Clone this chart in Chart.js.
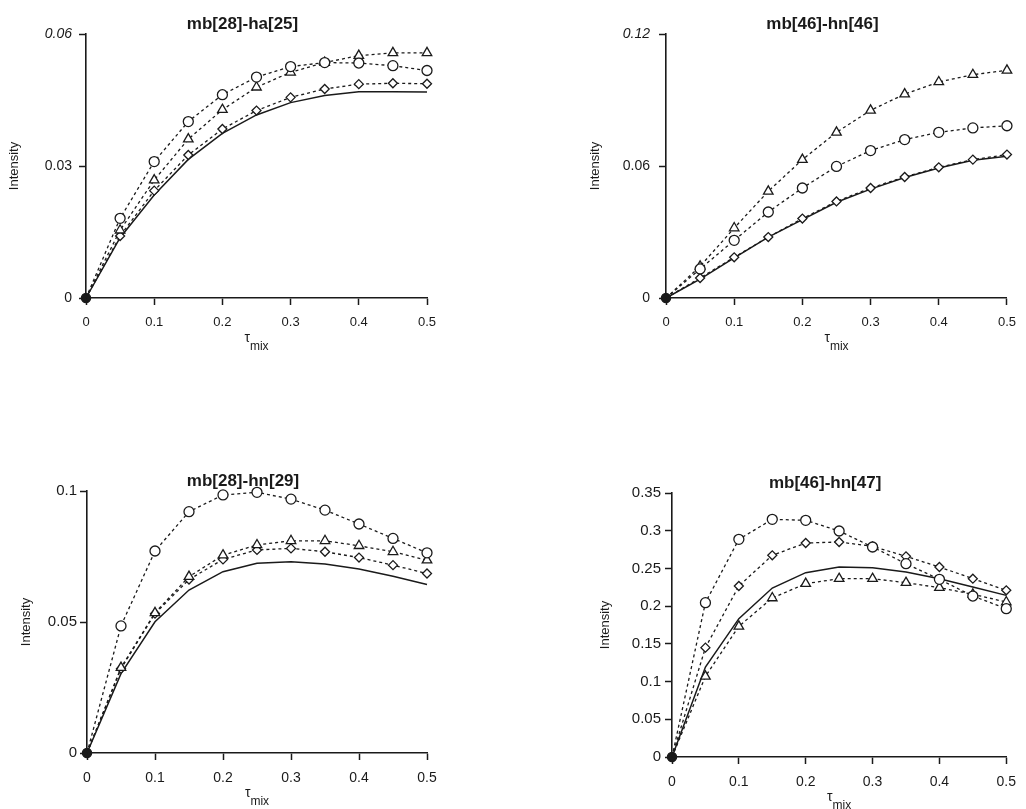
<!DOCTYPE html>
<html>
<head>
<meta charset="utf-8">
<script src="https://cdn.jsdelivr.net/npm/chart.js@4/dist/chart.umd.min.js"></script>
<style>
  html, body { margin: 0; padding: 0; background: #fff; overflow: hidden; }
  canvas { position: absolute; }
</style>
</head>
<body>
<canvas id="p1" width="513" height="360" style="left:0;top:0"></canvas>
<canvas id="p2" width="513" height="360" style="left:513px;top:0"></canvas>
<canvas id="p3" width="513" height="389" style="left:0;top:420px"></canvas>
<canvas id="p4" width="513" height="389" style="left:513px;top:420px"></canvas>
<script>
const tauMix = [0, 0.05, 0.1, 0.15, 0.2, 0.25, 0.3, 0.35, 0.4, 0.45, 0.5];
const xTicks = [0, 0.1, 0.2, 0.3, 0.4, 0.5];

// mb[28]-ha[25]
const p1Circle   = [0, 0.0181, 0.0310, 0.0401, 0.0462, 0.0502, 0.0526, 0.0535, 0.0534, 0.0528, 0.0517];
const p1Triangle = [0, 0.0154, 0.0268, 0.0361, 0.0428, 0.0479, 0.0513, 0.0535, 0.0551, 0.0557, 0.0557];
const p1Diamond  = [0, 0.0141, 0.0244, 0.0325, 0.0384, 0.0426, 0.0456, 0.0475, 0.0486, 0.0488, 0.0487];
const p1Solid    = [0, 0.0137, 0.0234, 0.0315, 0.0374, 0.0416, 0.0444, 0.0460, 0.0469, 0.0469, 0.0468];
const p1YTicks   = [0, 0.03, 0.06];

// mb[46]-hn[46]
const p2Circle   = [0, 0.0132, 0.0262, 0.0391, 0.0500, 0.0598, 0.0670, 0.0720, 0.0753, 0.0773, 0.0783];
const p2Triangle = [0, 0.0144, 0.0318, 0.0485, 0.0629, 0.0753, 0.0853, 0.0927, 0.0982, 0.1015, 0.1035];
const p2Diamond  = [0, 0.0091, 0.0185, 0.0277, 0.0361, 0.0439, 0.0500, 0.0550, 0.0594, 0.0629, 0.0652];
const p2Solid    = [0, 0.0086, 0.0182, 0.0277, 0.0356, 0.0435, 0.0495, 0.0548, 0.0591, 0.0626, 0.0644];
const p2YTicks   = [0, 0.06, 0.12];

// mb[28]-hn[29]
const p3Circle   = [0, 0.0485, 0.0771, 0.0921, 0.0985, 0.0995, 0.0969, 0.0927, 0.0874, 0.0819, 0.0764];
const p3Triangle = [0, 0.0326, 0.0535, 0.0673, 0.0755, 0.0794, 0.0810, 0.0810, 0.0791, 0.0768, 0.0736];
const p3Diamond  = [0, 0.0322, 0.0532, 0.0662, 0.0739, 0.0775, 0.0781, 0.0768, 0.0746, 0.0717, 0.0685];
const p3Solid    = [0, 0.0303, 0.0501, 0.0622, 0.0692, 0.0724, 0.0730, 0.0721, 0.0702, 0.0675, 0.0643];
const p3YTicks   = [0, 0.05, 0.1];

// mb[46]-hn[47]
const p4Circle   = [0, 0.2046, 0.2886, 0.3151, 0.3138, 0.2996, 0.2784, 0.2563, 0.2355, 0.2134, 0.1967];
const p4Triangle = [0, 0.1069, 0.1732, 0.2108, 0.2298, 0.2364, 0.2364, 0.2311, 0.2245, 0.2157, 0.2055];
const p4Diamond  = [0, 0.1450, 0.2267, 0.2674, 0.2837, 0.2850, 0.2793, 0.2660, 0.2519, 0.2364, 0.2210];
const p4Solid    = [0, 0.1193, 0.1834, 0.2240, 0.2444, 0.2519, 0.2510, 0.2453, 0.2364, 0.2254, 0.2143];
const p4YTicks   = [0, 0.05, 0.1, 0.15, 0.2, 0.25, 0.3, 0.35];

const INK = '#1a1a1a';
const FONT = '"Liberation Sans", Arial, sans-serif';

const toPoints = arr => tauMix.map((x, i) => ({ x, y: arr[i] }));

// panel title and the tau_mix axis label (with subscript)
const panelText = {
    id: 'panelText',
    afterDraw(chart, args, opts) {
        const { ctx, chartArea } = chart;
        const cx = (chartArea.left + chartArea.right) / 2;
        ctx.save();
        ctx.fillStyle = INK;
        ctx.textBaseline = 'middle';
        ctx.textAlign = 'center';
        ctx.font = 'bold 17px ' + FONT;
        ctx.fillText(opts.title, cx - 14, chartArea.top - 10);

        ctx.textAlign = 'left';
        ctx.font = '14px ' + FONT;
        const wTau = ctx.measureText('τ').width;
        ctx.font = '12px ' + FONT;
        const wMix = ctx.measureText('mix').width;
        const x0 = cx - (wTau + wMix) / 2;
        ctx.font = '14px ' + FONT;
        ctx.fillText('τ', x0, chartArea.bottom + 40);
        ctx.font = '12px ' + FONT;
        ctx.fillText('mix', x0 + wTau, chartArea.bottom + 49);
        ctx.restore();
    },
};

function markerSet(label, data, style, radius) {
    return {
        label,
        data: toPoints(data),
        borderColor: INK,
        borderWidth: 1.3,
        borderDash: [3, 3],
        pointStyle: style,
        pointRadius: ctx => ctx.dataIndex === 0 ? 0 : radius,
        pointBorderWidth: 1.3,
        pointBorderColor: INK,
        pointBackgroundColor: '#fff',
        tension: 0,
        clip: false,
    };
}

function makePanel(id, title, s, yTicks, lay) {
    new Chart(document.getElementById(id), {
        type: 'line',
        data: {
            datasets: [
                markerSet('circle', s.circle, 'circle', 5),
                markerSet('triangle', s.triangle, 'triangle', 5.5),
                markerSet('diamond', s.diamond, 'rectRot', 4.5),
                {
                    label: 'calc',
                    data: toPoints(s.solid),
                    borderColor: INK,
                    borderWidth: 1.5,
                    pointRadius: ctx => ctx.dataIndex === 0 ? 4.5 : 0,
                    pointBackgroundColor: INK,
                    pointBorderColor: INK,
                    tension: 0,
                    clip: false,
                },
            ],
        },
        options: {
            responsive: false,
            animation: false,
            events: [],
            layout: { padding: { top: lay.padTop, right: lay.padRight, left: 0, bottom: 0 } },
            plugins: {
                legend: { display: false },
                tooltip: { enabled: false },
                panelText: { title },
            },
            scales: {
                x: {
                    type: 'linear',
                    min: 0,
                    max: 0.5,
                    afterBuildTicks: sc => { sc.ticks = xTicks.map(v => ({ value: v })); },
                    afterFit: sc => { sc.height = lay.xHeight; },
                    grid: { drawOnChartArea: false, drawTicks: true, tickLength: 7, tickColor: INK, tickWidth: 1.5 },
                    border: { display: true, color: INK, width: 1.6 },
                    ticks: {
                        color: INK,
                        padding: 10,
                        maxRotation: 0,
                        font: { family: FONT, size: lay.xFont },
                        callback: v => String(v),
                    },
                },
                y: {
                    type: 'linear',
                    min: 0,
                    max: yTicks[yTicks.length - 1],
                    afterBuildTicks: sc => { sc.ticks = yTicks.map(v => ({ value: v })); },
                    afterFit: sc => { sc.width = lay.yWidth; },
                    grid: { drawOnChartArea: false, drawTicks: true, tickLength: 7, tickColor: INK, tickWidth: 1.5 },
                    border: { display: true, color: INK, width: 1.6 },
                    title: {
                        display: true,
                        text: 'Intensity',
                        color: INK,
                        font: { family: FONT, size: 13 },
                        padding: { top: lay.yTitlePad, bottom: 0 },
                    },
                    ticks: {
                        color: INK,
                        padding: lay.yPad,
                        font: ctx => ({
                            family: FONT,
                            size: lay.yFont,
                            style: lay.italicTop && ctx.index === yTicks.length - 1 ? 'italic' : 'normal',
                        }),
                        callback: v => String(v),
                    },
                },
            },
        },
        plugins: [panelText],
    });
}

makePanel('p1', 'mb[28]-ha[25]',
    { circle: p1Circle, triangle: p1Triangle, diamond: p1Diamond, solid: p1Solid }, p1YTicks,
    { padTop: 34, padRight: 86, yWidth: 86, yTitlePad: 7, xHeight: 62, yPad: 7, yFont: 14, xFont: 13, italicTop: true });

makePanel('p2', 'mb[46]-hn[46]',
    { circle: p2Circle, triangle: p2Triangle, diamond: p2Diamond, solid: p2Solid }, p2YTicks,
    { padTop: 34, padRight: 19, yWidth: 153, yTitlePad: 75, xHeight: 62, yPad: 9, yFont: 14, xFont: 13, italicTop: true });

makePanel('p3', 'mb[28]-hn[29]',
    { circle: p3Circle, triangle: p3Triangle, diamond: p3Diamond, solid: p3Solid }, p3YTicks,
    { padTop: 71, padRight: 86, yWidth: 87, yTitlePad: 19, xHeight: 56, yPad: 3, yFont: 15, xFont: 14, italicTop: false });

makePanel('p4', 'mb[46]-hn[47]',
    { circle: p4Circle, triangle: p4Triangle, diamond: p4Diamond, solid: p4Solid }, p4YTicks,
    { padTop: 73, padRight: 11, yWidth: 159, yTitlePad: 85, xHeight: 52, yPad: 4, yFont: 15, xFont: 14, italicTop: false });
</script>
</body>
</html>
